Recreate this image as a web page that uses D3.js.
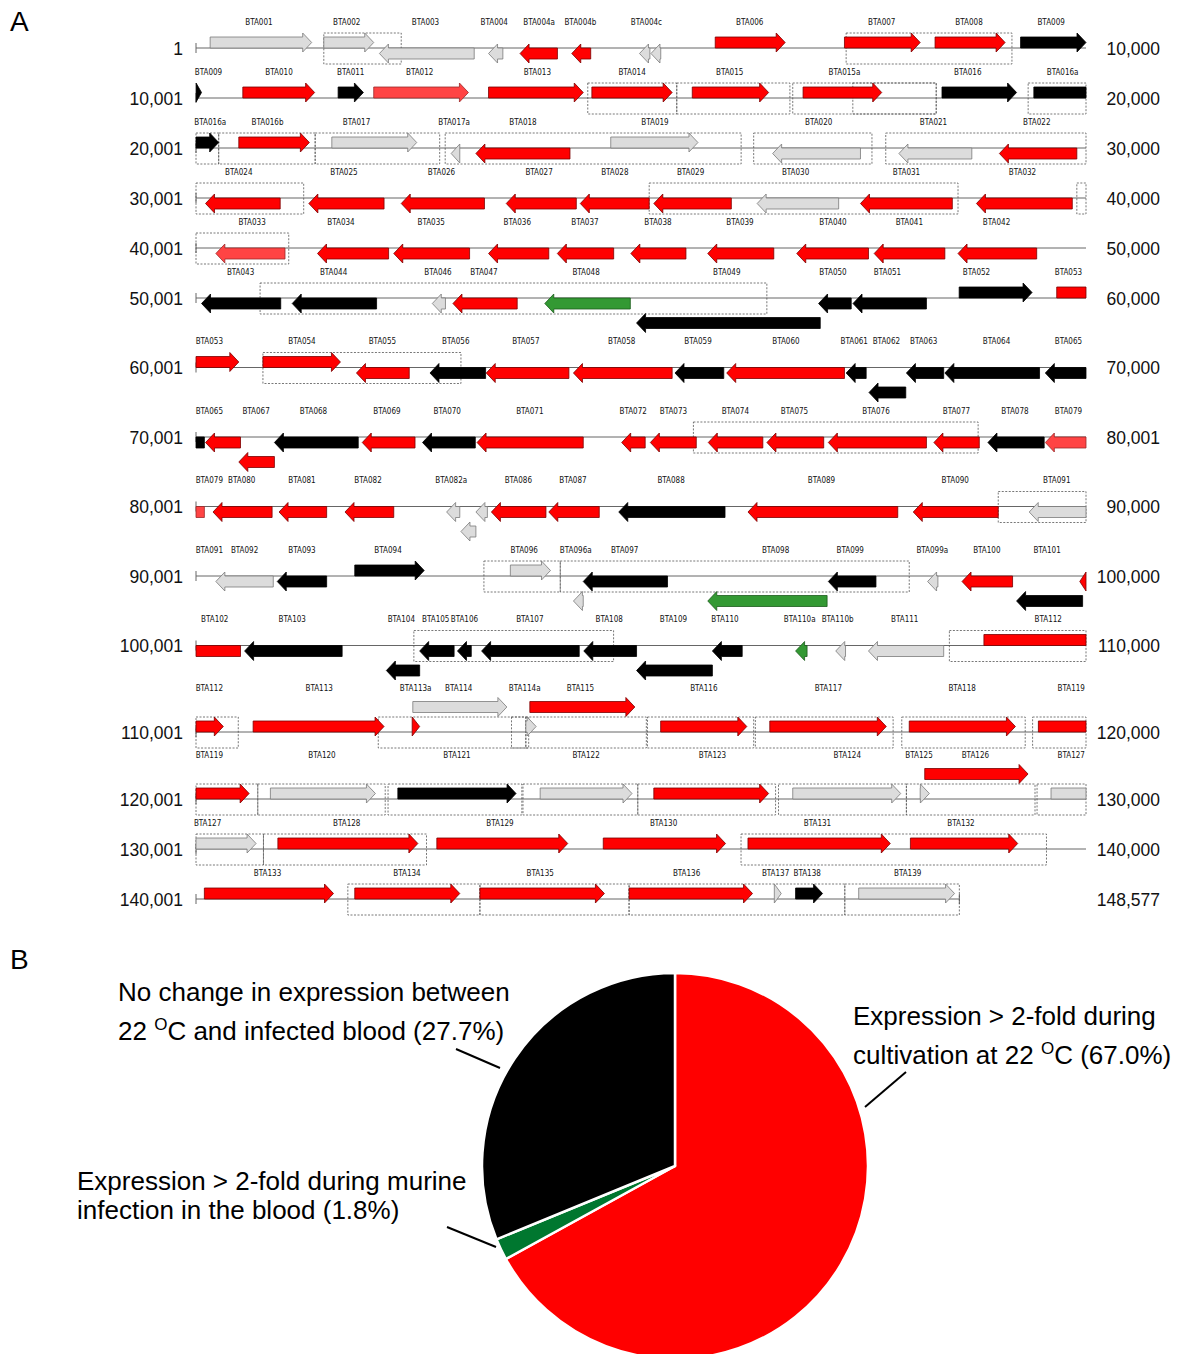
<!DOCTYPE html>
<html>
<head>
<meta charset="utf-8">
<script src="https://cdn.jsdelivr.net/npm/d3@7"></script>
<style>
  body { margin: 0; background: #fff; }
  svg { display: block; }
</style>
</head>
<body>
<div id="chart"></div>
<script>
// ---- data ----
const genomeLength = 148577;
const rowSize = 10000;

const rowLeftLabels = ["1", "10,001", "20,001", "30,001", "40,001", "50,001", "60,001", "70,001",
                       "80,001", "90,001", "100,001", "110,001", "120,001", "130,001", "140,001"];
const rowRightLabels = ["10,000", "20,000", "30,000", "40,000", "50,000", "60,000", "70,000", "80,001",
                        "90,000", "100,000", "110,000", "120,000", "130,000", "140,000", "148,577"];

// [start, end, strand, lane, class]  lane: 0 on the line, 1 shifted below, -1 shifted above
// class: R up at 22C, P up at 22C (weaker), K no change, G up in blood, N not determined
const genes = [
  [159, 1300, 1, 0, "N"], [1436, 1997, 1, 0, "N"], [2061, 3126, -1, 0, "N"], [3287, 3448, -1, 0, "N"],
  [3641, 4061, -1, 0, "R"], [4222, 4435, -1, 0, "R"], [4983, 5100, -1, 0, "N"], [5112, 5222, -1, 0, "N"],
  [5834, 6620, 1, 0, "R"], [7286, 8137, 1, 0, "R"], [8304, 9091, 1, 0, "R"], [9265, 10000, 1, 0, "K"],
  // 10,001
  [10001, 10062, 1, 0, "K"],
  [10526, 11333, 1, 0, "R"], [11597, 11881, 1, 0, "K"], [11997, 13061, 1, 0, "P"], [13287, 14351, 1, 0, "R"],
  [14448, 15350, 1, 0, "R"], [15576, 16434, 1, 0, "R"], [16821, 17705, 1, 0, "R"], [18382, 19220, 1, 0, "K"],
  [19414, 20255, 1, 0, "K"],
  // 20,001
  [20481, 21274, 1, 0, "R"], [21526, 22480, 1, 0, "N"], [22867, 22964, -1, 0, "N"], [23145, 24202, -1, 0, "R"],
  [24660, 25640, 1, 0, "N"], [26479, 27466, -1, 0, "N"], [27898, 28717, -1, 0, "N"], [29027, 29897, -1, 0, "R"],
  // 30,001
  [30107, 30946, -1, 0, "R"], [31268, 32113, -1, 0, "R"], [32306, 33241, -1, 0, "R"], [33486, 34273, -1, 0, "R"],
  [34318, 35092, -1, 0, "R"], [35144, 36015, -1, 0, "R"], [36305, 37221, -1, 0, "N"], [37466, 38498, -1, 0, "R"],
  [38769, 39846, -1, 0, "R"],
  // 40,001
  [40223, 41000, -1, 0, "P"], [41365, 42164, -1, 0, "R"], [42222, 43074, -1, 0, "R"], [43287, 43964, -1, 0, "R"],
  [44060, 44693, -1, 0, "R"], [44886, 45505, -1, 0, "R"], [45750, 46492, -1, 0, "R"], [46750, 47556, -1, 0, "R"],
  [47620, 48414, -1, 0, "R"], [48562, 49446, -1, 0, "R"],
  // 50,001
  [50062, 50952, -1, 0, "K"], [51081, 52029, -1, 0, "K"], [52655, 52803, -1, 0, "N"], [52887, 53609, -1, 0, "R"],
  [53919, 54880, -1, 0, "G"], [54950, 57014, -1, 1, "K"], [56995, 57362, -1, 0, "K"], [57382, 58207, -1, 0, "K"],
  [58575, 59394, 1, 0, "K"], [59671, 60481, 1, 0, "R"],
  // 60,001
  [60752, 61623, 1, 0, "R"], [61803, 62396, -1, 0, "R"], [62629, 63254, -1, 0, "K"], [63261, 64190, -1, 0, "R"],
  [64241, 65350, -1, 0, "R"], [65382, 65930, -1, 0, "K"], [65963, 67286, -1, 0, "R"], [67305, 67530, -1, 0, "K"],
  [67562, 67975, -1, 1, "K"], [67982, 68401, -1, 0, "K"], [68414, 69478, -1, 0, "K"], [69543, 70094, -1, 0, "K"],
  // 70,001
  [70107, 70500, -1, 0, "R"], [70481, 70881, -1, 1, "R"], [70881, 71823, -1, 0, "K"], [71868, 72461, -1, 0, "R"],
  [72545, 73138, -1, 0, "K"], [73158, 74351, -1, 0, "R"], [74783, 75047, -1, 0, "R"], [75105, 75621, -1, 0, "R"],
  [75756, 76369, -1, 0, "R"], [76415, 77053, -1, 0, "R"], [77105, 78207, -1, 0, "R"], [78291, 78801, -1, 0, "R"],
  [78898, 79530, -1, 0, "K"], [79543, 80094, -1, 0, "P"],
  // 80,001
  [80191, 80855, -1, 0, "R"], [80933, 81468, -1, 0, "R"], [81674, 82222, -1, 0, "R"], [82816, 82964, -1, 0, "N"],
  [82977, 83145, -1, 1, "N"], [83145, 83274, -1, 0, "N"], [83319, 83932, -1, 0, "R"], [83964, 84531, -1, 0, "R"],
  [84750, 85944, -1, 0, "K"], [86202, 87885, -1, 0, "R"], [88059, 89014, -1, 0, "R"], [89362, 90000, -1, 0, "N"],
  // 90,001
  [90223, 90868, -1, 0, "N"], [90913, 91468, -1, 0, "K"], [91784, 92564, 1, 0, "K"], [93532, 93983, 1, 0, "N"],
  [94241, 94351, -1, 1, "N"], [94351, 95298, -1, 0, "K"], [95750, 97091, -1, 1, "G"], [97105, 97640, -1, 0, "K"],
  [98220, 98336, -1, 0, "N"], [98607, 99175, -1, 0, "R"], [99220, 99962, -1, 1, "K"], [99930, 100500, -1, 0, "R"],
  // 100,001
  [100546, 101642, -1, 0, "K"], [102139, 102513, -1, 1, "K"], [102513, 102900, -1, 0, "K"], [102938, 103093, -1, 0, "K"],
  [103209, 104306, -1, 0, "K"], [104357, 104950, -1, 0, "K"], [104950, 105802, -1, 1, "K"], [105802, 106137, -1, 0, "K"],
  [106737, 106866, -1, 0, "G"], [107188, 107298, -1, 0, "N"], [107556, 108401, -1, 0, "N"], [108853, 110307, 1, 0, "R"],
  // 110,001
  [110642, 112113, 1, 0, "R"], [112429, 112513, 1, 0, "R"], [112436, 113493, 1, -1, "N"], [113706, 113822, 1, 0, "N"],
  [113751, 114931, 1, -1, "R"], [115221, 116189, 1, 0, "R"], [116447, 117756, 1, 0, "R"], [118014, 119207, 1, 0, "R"],
  [119465, 120597, 1, 0, "R"],
  // 120,001
  [120836, 122016, 1, 0, "N"], [122268, 123596, 1, 0, "K"], [123867, 124899, 1, 0, "N"], [125144, 126434, 1, 0, "R"],
  [126705, 127918, 1, 0, "N"], [128137, 128240, 1, 0, "N"], [128188, 129349, 1, -1, "R"], [129607, 130675, 1, 0, "N"],
  // 130,001
  [130920, 132493, 1, 0, "R"], [132706, 134177, 1, 0, "R"], [134576, 135950, 1, 0, "R"], [136202, 137801, 1, 0, "R"],
  [138027, 139233, 1, 0, "R"],
  // 140,001
  [140094, 141545, 1, 0, "R"], [141784, 142964, 1, 0, "R"], [143190, 144589, 1, 0, "R"], [144866, 146253, 1, 0, "R"],
  [146498, 146576, 1, 0, "N"], [146737, 147040, 1, 0, "K"], [147446, 148523, 1, 0, "N"]
];

// [name, position of label centre]
const geneLabels = [
  ["BTA001", 707], ["BTA002", 1694], ["BTA003", 2578], ["BTA004", 3351], ["BTA004a", 3855], ["BTA004b", 4319],
  ["BTA004c", 5061], ["BTA006", 6222], ["BTA007", 7705], ["BTA008", 8686], ["BTA009", 9608],
  ["BTA009", 10140], ["BTA010", 10933], ["BTA011", 11739], ["BTA012", 12513], ["BTA013", 13835], ["BTA014", 14900],
  ["BTA015", 15996], ["BTA015a", 17286], ["BTA016", 18672], ["BTA016a", 19737],
  ["BTA016a", 20160], ["BTA016b", 20804], ["BTA017", 21804], ["BTA017a", 22900], ["BTA018", 23674], ["BTA019", 25157],
  ["BTA020", 26996], ["BTA021", 28286], ["BTA022", 29447],
  ["BTA024", 30481], ["BTA025", 31662], ["BTA026", 32758], ["BTA027", 33855], ["BTA028", 34706], ["BTA029", 35557],
  ["BTA030", 36737], ["BTA031", 37983], ["BTA032", 39286],
  ["BTA033", 40630], ["BTA034", 41629], ["BTA035", 42642], ["BTA036", 43610], ["BTA037", 44370], ["BTA038", 45190],
  ["BTA039", 46112], ["BTA040", 47157], ["BTA041", 48015], ["BTA042", 48995],
  ["BTA043", 50501], ["BTA044", 51546], ["BTA046", 52719], ["BTA047", 53235], ["BTA048", 54383], ["BTA049", 55964],
  ["BTA050", 57157], ["BTA051", 57770], ["BTA052", 58770], ["BTA053", 59802],
  ["BTA053", 60150], ["BTA054", 61191], ["BTA055", 62094], ["BTA056", 62919], ["BTA057", 63706], ["BTA058", 64783],
  ["BTA059", 65641], ["BTA060", 66628], ["BTA061", 67396], ["BTA062", 67757], ["BTA063", 68176], ["BTA064", 68995],
  ["BTA065", 69802],
  ["BTA065", 70150], ["BTA067", 70675], ["BTA068", 71320], ["BTA069", 72145], ["BTA070", 72823], ["BTA071", 73751],
  ["BTA072", 74912], ["BTA073", 75364], ["BTA074", 76060], ["BTA075", 76725], ["BTA076", 77641], ["BTA077", 78544],
  ["BTA078", 79201], ["BTA079", 79802],
  ["BTA079", 80150], ["BTA080", 80514], ["BTA081", 81191], ["BTA082", 81933], ["BTA082a", 82868], ["BTA086", 83622],
  ["BTA087", 84235], ["BTA088", 85338], ["BTA089", 87028], ["BTA090", 88531], ["BTA091", 89672],
  ["BTA091", 90150], ["BTA092", 90546], ["BTA093", 91191], ["BTA094", 92158], ["BTA096", 93687], ["BTA096a", 94267],
  ["BTA097", 94816], ["BTA098", 96512], ["BTA099", 97351], ["BTA099a", 98273], ["BTA100", 98886], ["BTA101", 99563],
  ["BTA102", 100210], ["BTA103", 101081], ["BTA104", 102307], ["BTA105", 102694], ["BTA106", 103016], ["BTA107", 103751],
  ["BTA108", 104642], ["BTA109", 105364], ["BTA110", 105944], ["BTA110a", 106783], ["BTA110b", 107209], ["BTA111", 107963],
  ["BTA112", 109576],
  ["BTA112", 110150], ["BTA113", 111384], ["BTA113a", 112468], ["BTA114", 112952], ["BTA114a", 113693], ["BTA115", 114319],
  ["BTA116", 115706], ["BTA117", 117105], ["BTA118", 118608], ["BTA119", 119834],
  ["BTA119", 120150], ["BTA120", 121416], ["BTA121", 122932], ["BTA122", 124383], ["BTA123", 125803], ["BTA124", 127318],
  ["BTA125", 128124], ["BTA126", 128757], ["BTA127", 129834],
  ["BTA127", 130130], ["BTA128", 131694], ["BTA129", 133416], ["BTA130", 135254], ["BTA131", 136983], ["BTA132", 138595],
  ["BTA133", 140804], ["BTA134", 142371], ["BTA135", 143867], ["BTA136", 145512], ["BTA137", 146512], ["BTA138", 146867],
  ["BTA139", 147996]
];

// dotted boxes [start, end]
const operons = [
  [1436, 2306], [7305, 9168],
  [14402, 15402], [15402, 16673], [16705, 18317], [17380, 18317], [19350, 20255],
  [20255, 21339], [21339, 22738], [22800, 26125], [26266, 27595], [27750, 31210],
  [35092, 38562], [39897, 41042],
  [50720, 56414],
  [60752, 62977],
  [75589, 78788],
  [89014, 90000],
  [93235, 94093], [94093, 98014],
  [102448, 104692], [108465, 110475],
  [112048, 113706], [113545, 113738], [113706, 115060], [115073, 116266], [116285, 117833], [117930, 119317],
  [119400, 120694],
  [120694, 122126], [122158, 123661], [123674, 124964], [124964, 126512], [126545, 127982], [127982, 129427],
  [129450, 130758], [130758, 132590],
  [136124, 139556],
  [141706, 143190], [143190, 144866], [144866, 147290], [147290, 148577]
];

const pieCategories = ["Expression > 2-fold during cultivation at 22 °C",
                       "Expression > 2-fold during murine infection in the blood",
                       "No change in expression between 22 °C and infected blood"];
const pieValues = [67.0, 1.8, 27.7];

// ---- styles ----
const classFill = { R: "#ff0000", P: "#ff4444", K: "#000000", G: "#339933", N: "#dcdcdc" };
const classStroke = { R: "#7a0000", P: "#9a2a2a", K: "#000000", G: "#1c5a1c", N: "#7a7a7a" };
const pieColors = ["#ff0000", "#00772f", "#000000"];

const W = 1179, H = 1354;
const svg = d3.select("#chart").append("svg").attr("width", W).attr("height", H)
  .style("font-family", "'Liberation Sans', Arial, sans-serif");

const x = d3.scaleLinear().domain([0, rowSize]).range([196, 1086]);
const nRows = Math.ceil(genomeLength / rowSize);
const rowOf = p => Math.min(nRows - 1, Math.floor((p - 1) / rowSize));

// split genes into row segments
const segs = [];
genes.forEach(g => {
  const [s, e, strand, lane, cls] = g;
  for (let r = rowOf(s); r <= rowOf(e) && r < nRows; r++) {
    const a = Math.max(s, r * rowSize), b = Math.min(e, (r + 1) * rowSize);
    segs.push({ row: r, a: a - r * rowSize, b: b - r * rowSize, strand, lane, cls,
                head: strand > 0 ? b === e : a === s });
  }
});

// row baselines
const laneStep = 19.5;
const hasLower = d3.range(nRows).map(r => segs.some(d => d.row === r && d.lane === 1));
const hasUpper = d3.range(nRows).map(r => segs.some(d => d.row === r && d.lane === -1));
const rowY = [48];
for (let r = 1; r < nRows; r++) {
  rowY.push(rowY[r - 1] + 50 + (hasLower[r - 1] ? laneStep : 0) + (hasUpper[r] ? 17 : 0));
}

const gA = svg.append("g");

// panel letters
svg.append("text").attr("x", 10).attr("y", 31).attr("font-size", 28).text("A");
svg.append("text").attr("x", 10).attr("y", 969).attr("font-size", 28).text("B");

// row lines and labels
d3.range(nRows).forEach(r => {
  const len = Math.min(rowSize, genomeLength - r * rowSize);
  const y = rowY[r];
  gA.append("line").attr("x1", x(0)).attr("x2", x(len)).attr("y1", y).attr("y2", y)
    .attr("stroke", "#666").attr("stroke-width", 1);
  gA.append("line").attr("x1", x(0)).attr("x2", x(0)).attr("y1", y - 5).attr("y2", y + 5)
    .attr("stroke", "#666");
  if (len < rowSize)
    gA.append("line").attr("x1", x(len)).attr("x2", x(len)).attr("y1", y - 5).attr("y2", y + 5)
      .attr("stroke", "#666");
  gA.append("text").attr("x", 183).attr("y", y + 6.5).attr("text-anchor", "end")
    .attr("font-size", 17.5).attr("fill", "#111").text(rowLeftLabels[r]);
  gA.append("text").attr("x", 1160).attr("y", y + 6.5).attr("text-anchor", "end")
    .attr("font-size", 17.5).attr("fill", "#111").text(rowRightLabels[r]);
});

// operon boxes
const boxSegs = [];
operons.forEach(([s, e]) => {
  for (let r = rowOf(s); r <= rowOf(e) && r < nRows; r++) {
    const a = Math.max(s, r * rowSize), b = Math.min(e, (r + 1) * rowSize);
    if (b > a) boxSegs.push({ row: r, a: a - r * rowSize, b: b - r * rowSize });
  }
});
gA.append("g").selectAll("rect").data(boxSegs).join("rect")
  .attr("x", d => x(d.a)).attr("width", d => x(d.b) - x(d.a))
  .attr("y", d => rowY[d.row] - 15).attr("height", 31)
  .attr("fill", "none").attr("stroke", "#555").attr("stroke-width", 0.8)
  .attr("stroke-dasharray", "2,1.5");

// arrows
const bodyH = 11, over = 4, headL = 9;
function arrowPath(d) {
  const x0 = x(d.a), x1 = x(d.b);
  const base = rowY[d.row] + d.lane * laneStep;
  const top = d.strand > 0 ? base - bodyH : base;
  const bot = top + bodyH, mid = top + bodyH / 2;
  const p = d3.path();
  if (!d.head) {
    p.rect(x0, top, x1 - x0, bodyH);
    return p.toString();
  }
  const hl = Math.min(headL, x1 - x0);
  if (d.strand > 0) {
    p.moveTo(x0, top); p.lineTo(x1 - hl, top); p.lineTo(x1 - hl, top - over);
    p.lineTo(x1, mid); p.lineTo(x1 - hl, bot + over); p.lineTo(x1 - hl, bot); p.lineTo(x0, bot);
  } else {
    p.moveTo(x1, top); p.lineTo(x0 + hl, top); p.lineTo(x0 + hl, top - over);
    p.lineTo(x0, mid); p.lineTo(x0 + hl, bot + over); p.lineTo(x0 + hl, bot); p.lineTo(x1, bot);
  }
  p.closePath();
  return p.toString();
}
gA.append("g").selectAll("path").data(segs).join("path")
  .attr("d", arrowPath)
  .attr("fill", d => classFill[d.cls])
  .attr("stroke", d => classStroke[d.cls])
  .attr("stroke-width", 0.8)
  .attr("stroke-linejoin", "miter");

// gene labels
gA.append("g").selectAll("text").data(geneLabels).join("text")
  .attr("x", d => x(d[1] - rowOf(d[1]) * rowSize))
  .attr("y", d => rowY[rowOf(d[1])] - 23.5 - (hasUpper[rowOf(d[1])] ? 18 : 0))
  .attr("text-anchor", "middle")
  .attr("font-family", "'Liberation Sans Narrow', 'DejaVu Sans Condensed', sans-serif")
  .attr("font-size", 8)
  .attr("fill", "#111")
  .text(d => d[0]);

// ---- panel B: pie ----
const cx = 675, cy = 1166, R = 193;
const ang = d3.scaleLinear().domain([0, 100]).range([0, 2 * Math.PI]);
let acc = 0;
const slices = pieValues.map((v, i) => {
  const s = { start: ang(acc), end: i === pieValues.length - 1 ? 2 * Math.PI : ang(acc + v), i };
  acc += v;
  return s;
});
const arc = d3.arc().innerRadius(0).outerRadius(R).startAngle(d => d.start).endAngle(d => d.end);
const gB = svg.append("g").attr("transform", `translate(${cx},${cy})`);
gB.selectAll("path").data(slices).join("path")
  .attr("d", arc)
  .attr("fill", d => pieColors[d.i])
  .attr("stroke", "#fff").attr("stroke-width", 2.5).attr("stroke-linejoin", "round");

// leader lines
const leaders = [[906, 1072, 865, 1107], [447, 1227, 496, 1247], [456, 1049, 500, 1068]];
svg.append("g").selectAll("line").data(leaders).join("line")
  .attr("x1", d => d[0]).attr("y1", d => d[1]).attr("x2", d => d[2]).attr("y2", d => d[3])
  .attr("stroke", "#000").attr("stroke-width", 2);

const fs = 26;
function label(xp, y1, y2, line1, pre2, post2, sup) {
  const t = svg.append("text").attr("font-size", fs).attr("fill", "#000");
  t.append("tspan").attr("x", xp).attr("y", y1).text(line1);
  if (sup) {
    t.append("tspan").attr("x", xp).attr("y", y2).text(pre2);
    t.append("tspan").attr("font-size", 17).attr("dy", -10).text("O");
    t.append("tspan").attr("dy", 10).text(post2);
  } else {
    t.append("tspan").attr("x", xp).attr("y", y2).text(pre2);
  }
}
label(853, 1025, 1064, "Expression > 2-fold during", "cultivation at 22 ", "C (" + pieValues[0].toFixed(1) + "%)", true);
label(77, 1190, 1219, "Expression > 2-fold during murine", "infection in the blood (" + pieValues[1].toFixed(1) + "%)", "", false);
label(118, 1001, 1040, "No change in expression between", "22 ", "C and infected blood (" + pieValues[2].toFixed(1) + "%)", true);
</script>
</body>
</html>
